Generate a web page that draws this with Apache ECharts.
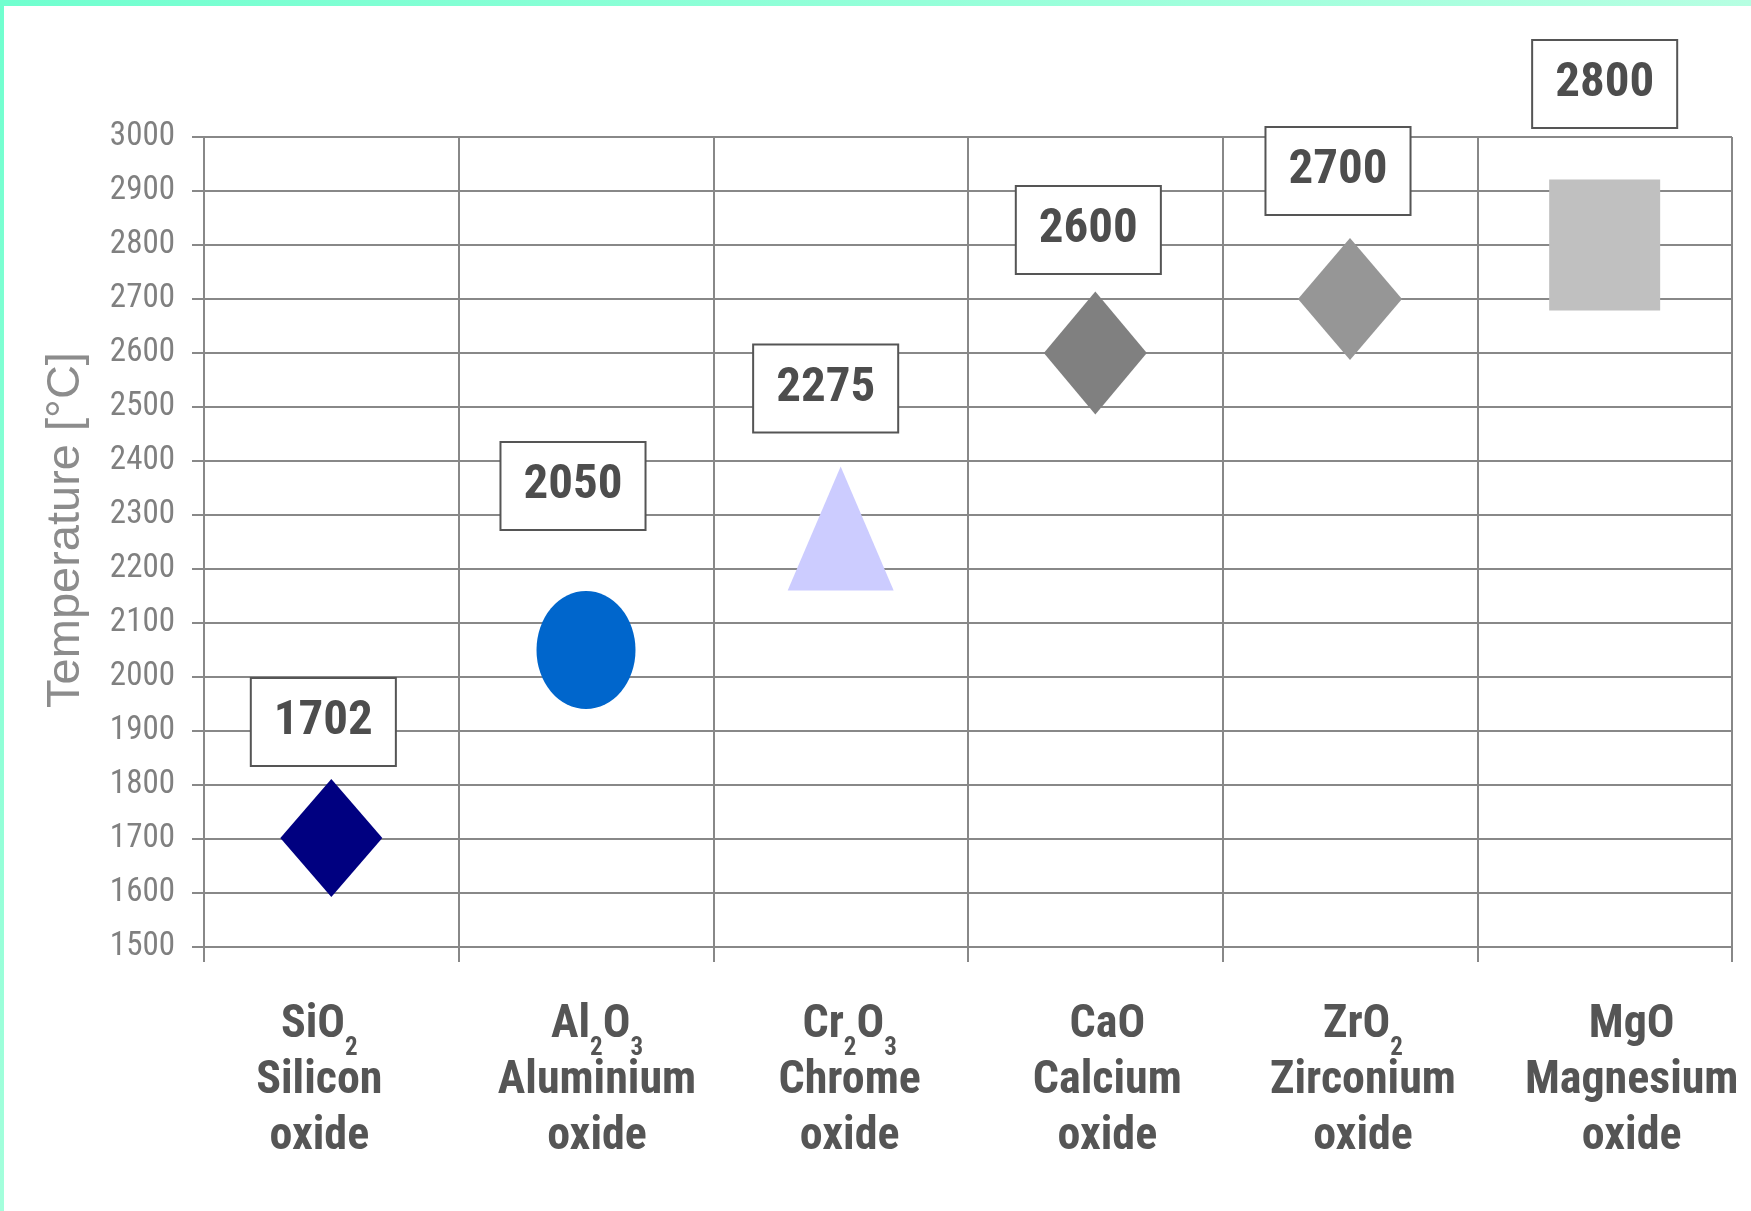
<!DOCTYPE html>
<html>
<head>
<meta charset="utf-8">
<style>
  html, body { margin: 0; padding: 0; background: #ffffff; }
  #chart { width: 1751px; height: 1211px; }
</style>
<script src="https://cdn.jsdelivr.net/npm/echarts@6/dist/echarts.min.js"></script>
</head>
<body>
<div id="chart"></div>
<script>
// Oxide formulas ({s|..} marks a subscript), names and melting points in °C
const formulas = ['SiO{s|2}', 'Al{s|2}O{s|3}', 'Cr{s|2}O{s|3}', 'CaO', 'ZrO{s|2}', 'MgO'];
const oxideNames = ['Silicon', 'Aluminium', 'Chrome', 'Calcium', 'Zirconium', 'Magnesium'];
const meltingPoints = [1702, 2050, 2275, 2600, 2700, 2800];

// Temperature axis range and step
const yMin = 1500;
const yMax = 3000;
const yStep = 100;

const categories = formulas.map((f, i) => f + '\n' + oxideNames[i] + '\noxide');

// Horizontal nudge (px) of each category caption under its column
const captionShift = [-12, 11, 9, 12, 13, 27];

// Marker look for each oxide, and where its value box sits relative to it
const ellipsePath = 'path://M0,50 A50,50 0 1,1 100,50 A50,50 0 1,1 0,50 Z';
const markerStyles = [
  { symbol: 'diamond',   size: [102, 118], color: '#000080', labelOffset: [-8, -116] },
  { symbol: ellipsePath, size: [99, 118],  color: '#0066CC', labelOffset: [-13, -164] },
  { symbol: 'triangle',  size: [106, 124], color: '#CCCCFF', labelOffset: [-15, -140] },
  { symbol: 'diamond',   size: [103, 123], color: '#808080', labelOffset: [-7, -123] },
  { symbol: 'diamond',   size: [104, 122], color: '#969696', labelOffset: [-12, -128] },
  { symbol: 'rect',      size: [111, 131], color: '#C0C0C0', labelOffset: [0, -161] }
];

const NARROW = '"Roboto Condensed", "Open Sans Condensed", "Liberation Sans Narrow", sans-serif';
const gridColor = '#888888';

const chart = echarts.init(document.getElementById('chart'), null, { renderer: 'canvas' });

chart.setOption({
  backgroundColor: '#ffffff',
  animation: false,
  graphic: [
    {
      type: 'rect', left: 0, top: 0, z: 100,
      shape: { width: 1751, height: 6 },
      style: { fill: new echarts.graphic.LinearGradient(0, 0, 1, 0, [
        { offset: 0, color: '#70FFCF' }, { offset: 1, color: '#B6FFE2' }]) }
    },
    {
      type: 'rect', left: 0, top: 0, z: 100,
      shape: { width: 4, height: 1211 },
      style: { fill: new echarts.graphic.LinearGradient(0, 0, 0, 1, [
        { offset: 0, color: '#70FFCF' }, { offset: 1, color: '#A4FFDC' }]) }
    }
  ],
  grid: { left: 204, top: 137, right: 19, bottom: 264, containLabel: false },
  xAxis: {
    type: 'category',
    data: categories.map((c, i) => ({
      value: c,
      textStyle: {
        padding: captionShift[i] >= 0
          ? [0, 0, 0, 2 * captionShift[i]]
          : [0, -2 * captionShift[i], 0, 0]
      }
    })),
    boundaryGap: true,
    axisLine: { show: true, lineStyle: { color: gridColor, width: 2 } },
    axisTick: { show: true, length: 15, interval: 0, lineStyle: { color: gridColor, width: 2 } },
    splitLine: { show: true, interval: 0, lineStyle: { color: gridColor, width: 2 } },
    axisLabel: {
      interval: 0,
      margin: 50,
      fontFamily: NARROW,
      fontWeight: 'bold',
      fontSize: 46,
      lineHeight: 56,
      color: '#555555',
      align: 'center',
      rich: {
        s: {
          fontFamily: NARROW,
          fontWeight: 'bold',
          fontSize: 25,
          lineHeight: 56,
          color: '#555555',
          padding: [48, 0, 0, 0]
        }
      }
    }
  },
  yAxis: {
    type: 'value',
    min: yMin,
    max: yMax,
    interval: yStep,
    name: 'Temperature [°C]',
    nameLocation: 'middle',
    nameGap: 114,
    nameTextStyle: {
      fontFamily: '"Liberation Sans", Arial, sans-serif',
      fontSize: 47,
      color: '#8c8c8c',
      padding: [0, 0, 0, 24]
    },
    axisLine: { show: true, lineStyle: { color: gridColor, width: 2 } },
    axisTick: { show: true, length: 12, lineStyle: { color: gridColor, width: 2 } },
    splitLine: { show: true, lineStyle: { color: gridColor, width: 2 } },
    axisLabel: {
      margin: 29,
      fontFamily: NARROW,
      fontSize: 33,
      color: '#808080',
      formatter: v => String(v)
    }
  },
  series: [{
    type: 'scatter',
    data: meltingPoints.map((v, i) => ({
      value: [categories[i], v],
      symbol: markerStyles[i].symbol,
      symbolSize: markerStyles[i].size,
      itemStyle: { color: markerStyles[i].color, opacity: 1 },
      label: { offset: markerStyles[i].labelOffset }
    })),
    label: {
      show: true,
      position: 'inside',
      formatter: p => String(p.value[1]),
      fontFamily: NARROW,
      fontWeight: 'bold',
      fontSize: 49,
      lineHeight: 50,
      color: '#4d4d4d',
      backgroundColor: '#ffffff',
      borderColor: '#555555',
      borderWidth: 2,
      padding: [18, 22]
    },
    emphasis: { disabled: true }
  }]
});
</script>
</body>
</html>
